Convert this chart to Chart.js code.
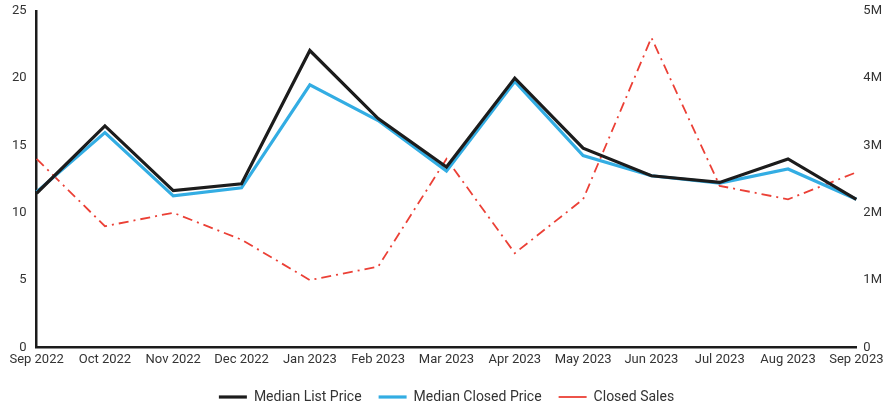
<!DOCTYPE html>
<html>
<head>
<meta charset="utf-8">
<script src="https://cdn.jsdelivr.net/npm/chart.js@4.4.0/dist/chart.umd.min.js"></script>
<style>
  html, body { margin: 0; padding: 0; background: #fff; }
  #wrap { width: 895px; height: 404px; position: relative; }
</style>
</head>
<body>
<div id="wrap"><canvas id="chart"></canvas></div>
<script>
// ── Data ─────────────────────────────────────────────
const months = ['Sep 2022','Oct 2022','Nov 2022','Dec 2022','Jan 2023','Feb 2023','Mar 2023',
                'Apr 2023','May 2023','Jun 2023','Jul 2023','Aug 2023','Sep 2023'];
const medianListPrice   = [2.29, 3.29, 2.33, 2.43, 4.41, 3.40, 2.68, 4.00, 2.96, 2.55, 2.45, 2.80, 2.20]; // millions
const medianClosedPrice = [2.31, 3.19, 2.25, 2.37, 3.90, 3.37, 2.62, 3.95, 2.85, 2.55, 2.44, 2.65, 2.20]; // millions
const closedSales       = [14, 9, 10, 8, 5, 6, 14, 7, 11, 23, 12, 11, 13];
const leftTicks  = [0, 5, 10, 15, 20, 25];
const rightTicks = ['0', '1M', '2M', '3M', '4M', '5M'];

const C = {
  black: '#1c1c1c',
  blue:  '#33ade3',
  red:   '#eb4036',
  text:  '#333333',
};

Chart.defaults.font.family = 'Roboto';
Chart.defaults.font.size = 13;
Chart.defaults.color = C.text;

new Chart(document.getElementById('chart'), {
  type: 'line',
  data: {
    labels: months,
    datasets: [
      { label: 'Median List Price', data: medianListPrice, yAxisID: 'y1',
        borderColor: C.black, backgroundColor: C.black, borderWidth: 3.2, pointRadius: 0, tension: 0 },
      { label: 'Median Closed Price', data: medianClosedPrice, yAxisID: 'y1',
        borderColor: C.blue, backgroundColor: C.blue, borderWidth: 3.2, pointRadius: 0, tension: 0 },
      { label: 'Closed Sales', data: closedSales, yAxisID: 'y',
        borderColor: C.red, backgroundColor: C.red, borderWidth: 1.8, borderDash: [10, 5, 2, 5],
        pointRadius: 0, tension: 0 },
    ],
  },
  options: {
    responsive: true,
    maintainAspectRatio: false,
    animation: false,
    layout: { padding: { left: 9, right: 11, top: 0, bottom: -10 } },
    plugins: {
      tooltip: { enabled: false },
      legend: {
        position: 'bottom',
        labels: {
          usePointStyle: true,
          pointStyle: 'line',
          pointStyleWidth: 28,
          boxHeight: 10,
          padding: 17,
          color: C.text,
          font: { size: 14 },
        },
      },
    },
    scales: {
      x: {
        offset: false,
        grid: { display: false, drawTicks: false },
        border: { display: true, color: C.black, width: 2.5 },
        ticks: { autoSkip: false, maxRotation: 0, padding: 5, color: C.text },
      },
      y: {
        position: 'left',
        min: 0, max: 25,
        // invisible tick marks keep the label gap without padding the top
        grid: { display: false, drawTicks: true, tickLength: 7 },
        border: { display: true, color: C.black, width: 2.5 },
        afterBuildTicks: (ax) => { ax.ticks = leftTicks.map(v => ({ value: v })); },
        ticks: { padding: 3, color: C.text },
      },
      y1: {
        position: 'right',
        min: 0, max: 5,
        grid: { display: false, drawTicks: true, tickLength: 5 },
        border: { display: false },
        afterBuildTicks: (ax) => { ax.ticks = rightTicks.map((t, i) => ({ value: i })); },
        ticks: { padding: 2, color: C.text, callback: (v) => rightTicks[v] },
      },
    },
  },
});
</script>
</body>
</html>
